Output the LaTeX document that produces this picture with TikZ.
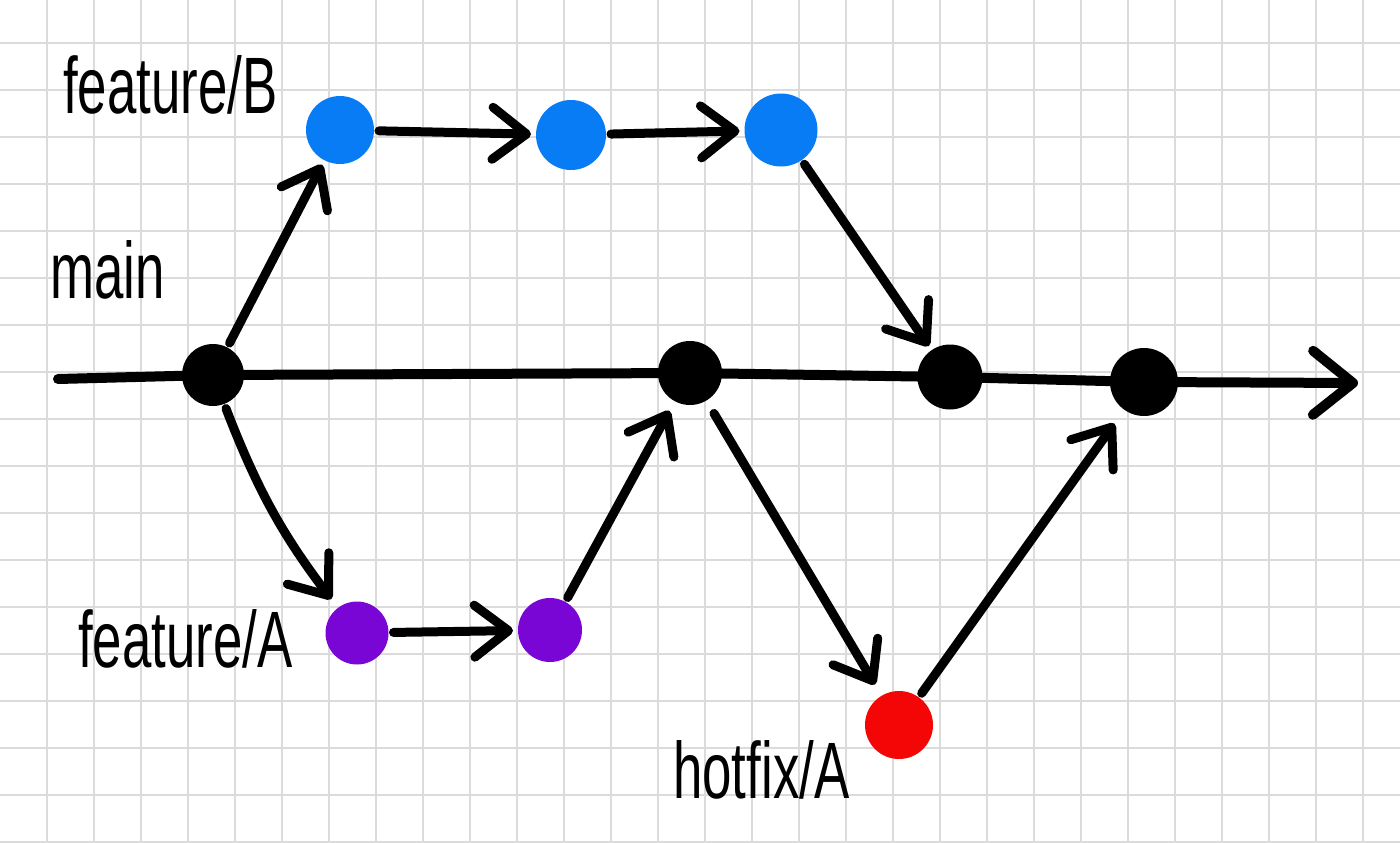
\documentclass[tikz,border=0pt]{standalone}
\usepackage{fontspec}
\newfontfamily\handfont[FakeStretch=0.66]{Liberation Sans}
\usetikzlibrary{arrows.meta}
\definecolor{fbblue}{RGB}{8,124,245}
\definecolor{fapurple}{RGB}{122,6,214}
\definecolor{hfred}{RGB}{245,6,6}

\begin{document}
\begin{tikzpicture}[x=1pt,y=-1pt,
  commit/.style={circle, inner sep=0pt, outer sep=5pt},
  branch/.style={line width=9pt, line cap=round, line join=round, -{Straight Barb[length=34pt,width=52pt,round]}},
  tag/.style={font=\handfont\fontsize{80}{80}\selectfont, inner sep=0pt, anchor=base west},
  gridline/.style={black!14, line width=1.5pt}]
  \useasboundingbox (0,0) rectangle (1400,843);
  % Grid paper
  \foreach \x in {47,94,...,1363} \draw[gridline] (\x,0) -- (\x,843);
  \foreach \y in {43,90,...,842} \draw[gridline] (0,\y) -- (1400,\y);
  % Commits
  \node[commit, fill=black, minimum size=62pt] (m1) at (213,375) {};
  \node[commit, fill=black, minimum size=64pt] (m2) at (690,373) {};
  \node[commit, fill=black, minimum size=65pt] (m3) at (950,377) {};
  \node[commit, fill=black, minimum size=68pt] (m4) at (1144,382) {};
  \node[commit, fill=fbblue, minimum size=68pt] (b1) at (340,130) {};
  \node[commit, fill=fbblue, minimum size=70pt] (b2) at (571,135) {};
  \node[commit, fill=fbblue, minimum size=73pt] (b3) at (781,130) {};
  \node[commit, fill=fapurple, minimum size=63pt] (a1) at (357,633) {};
  \node[commit, fill=fapurple, minimum size=64pt] (a2) at (550,630) {};
  \node[commit, fill=hfred, minimum size=68pt] (h1) at (899,725) {};
  % Main line
  \coordinate (tail) at (58,379);
  \coordinate (head) at (1358,383);
  \draw[line width=10pt, line cap=round, line join=round, -{Straight Barb[length=40pt,width=64pt,round]}]
    (tail) -- (m1.center) -- (m2.center) -- (m3.center) -- (m4.center) -- (head);
  % Branches
  \draw[branch] (m1) -- (b1);
  \draw[branch] (b1) -- (b2);
  \draw[branch] (b2) -- (b3);
  \draw[branch] (b3) -- (m3);
  \draw[branch, shorten >=6pt] (m1) to[bend right=8] (a1);
  \draw[branch] (a1) -- (a2);
  \draw[branch, shorten >=6pt] (a2) -- (m2);
  \draw[branch, shorten <=10pt, shorten >=8pt] (m2) -- (h1);
  \draw[branch, shorten >=12pt] (h1) -- (m4);
  % Labels
  \node[tag] (lblb) at (63,113) {feature/B};
  \node[tag] (lblm) at (50,298) {main};
  \node[tag] (lbla) at (78,667) {feature/A};
  \node[tag] (lblh) at (673,798) {hotfix/A};
\end{tikzpicture}
\end{document}
